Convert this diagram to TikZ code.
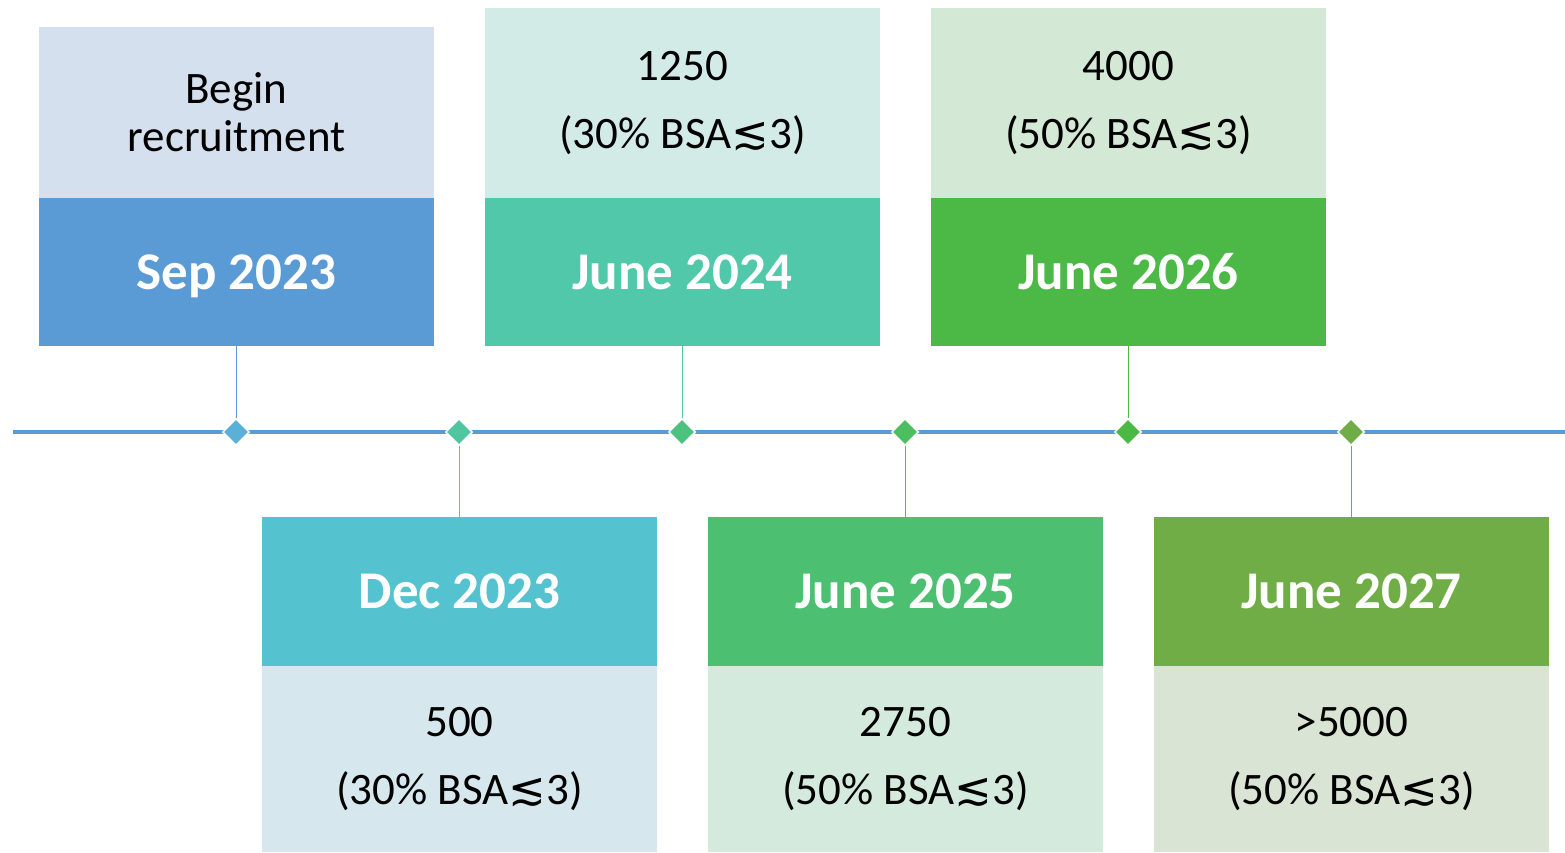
\documentclass[tikz,border=0pt]{standalone}
\usepackage{fontspec}
\setmainfont{Carlito}
\newfontfamily\symfont{DejaVu Sans}
\usepackage{tikz}
\usetikzlibrary{shapes.geometric}
\usetikzlibrary{positioning}

\definecolor{lineblue}{HTML}{5B9BD5}
\definecolor{darkA}{HTML}{5B9BD5}\definecolor{lightA}{HTML}{D5E0EE}
\definecolor{darkB}{HTML}{55C2CF}\definecolor{lightB}{HTML}{D6E8EE}
\definecolor{darkC}{HTML}{50C8A9}\definecolor{lightC}{HTML}{D3EBE6}
\definecolor{darkD}{HTML}{4CC070}\definecolor{lightD}{HTML}{D4EADD}
\definecolor{darkE}{HTML}{4CB947}\definecolor{lightE}{HTML}{D3E8D5}
\definecolor{darkF}{HTML}{70AD47}\definecolor{lightF}{HTML}{D9E4D4}
\definecolor{gemA}{HTML}{5AB0D6}
\definecolor{gemB}{HTML}{50C6A0}
\definecolor{gemC}{HTML}{4CC27E}
\definecolor{gemD}{HTML}{4CBE60}
\definecolor{gemE}{HTML}{4CB947}
\definecolor{gemF}{HTML}{70AD47}

\newcommand{\lesim}{{\symfont\char"2272}}

\tikzset{
  datebox/.style={rectangle,minimum width=395pt,inner sep=0pt,draw=none,text=white,
    text height=34pt,text depth=0pt,font=\fontsize{53}{58}\selectfont\bfseries},
  notebox/.style={rectangle,minimum width=395pt,inner sep=0pt,draw=none,text=black,align=center},
  gem/.style={diamond,minimum width=27pt,minimum height=27pt,inner sep=0pt,draw=white,line width=1.5pt},
  stem/.style={line width=0.8pt}
}

\begin{document}
\begin{tikzpicture}[x=1pt,y=-1pt]
\useasboundingbox (0,0) rectangle (1565,852);
% timeline
\coordinate (tl0) at (13,432);
\coordinate (tl1) at (1565,432);
\draw[lineblue,line width=3.5pt] (tl0) -- (tl1);

% upper boxes
\node at (236.5,112.5)[notebox,fill=lightA,minimum height=171pt,font=\fontsize{45}{48}\selectfont](topA){Begin\\recruitment};
\node at (236.5,272)[datebox,fill=darkA,minimum height=148pt](dateA){Sep 2023};
\node at (682.5,103)[notebox,fill=lightC,minimum height=190pt,font=\fontsize{45}{68}\selectfont](topC){1250\\(30\% BSA\lesim3)};
\node at (682.5,272)[datebox,fill=darkC,minimum height=148pt](dateC){June 2024};
\node at (1128.5,103)[notebox,fill=lightE,minimum height=190pt,font=\fontsize{45}{68}\selectfont](topE){4000\\(50\% BSA\lesim3)};
\node at (1128.5,272)[datebox,fill=darkE,minimum height=148pt](dateE){June 2026};

% lower boxes
\node at (459.5,591.5)[datebox,fill=darkB,minimum height=149pt](dateB){Dec 2023};
\node at (459.5,759)[notebox,fill=lightB,minimum height=186pt,font=\fontsize{45}{68}\selectfont](botB){500\\(30\% BSA\lesim3)};
\node at (905.5,591.5)[datebox,fill=darkD,minimum height=149pt](dateD){June 2025};
\node at (905.5,759)[notebox,fill=lightD,minimum height=186pt,font=\fontsize{45}{68}\selectfont](botD){2750\\(50\% BSA\lesim3)};
\node at (1351.5,591.5)[datebox,fill=darkF,minimum height=149pt](dateF){June 2027};
\node at (1351.5,759)[notebox,fill=lightF,minimum height=186pt,font=\fontsize{45}{68}\selectfont](botF){>5000\\(50\% BSA\lesim3)};

% stems and diamonds
\node at (236,432)[gem,fill=gemA](gA){};
\node at (459,432)[gem,fill=gemB](gB){};
\node at (682,432)[gem,fill=gemC](gC){};
\node at (905,432)[gem,fill=gemD](gD){};
\node at (1128,432)[gem,fill=gemE](gE){};
\node at (1351,432)[gem,fill=gemF](gF){};
\draw[stem,darkA] (gA.north) -- (dateA.south -| gA);
\draw[stem,darkB] (gB.south) -- (dateB.north -| gB);
\draw[stem,darkC] (gC.north) -- (dateC.south -| gC);
\draw[stem,darkD] (gD.south) -- (dateD.north -| gD);
\draw[stem,darkE] (gE.north) -- (dateE.south -| gE);
\draw[stem,darkF] (gF.south) -- (dateF.north -| gF);
\end{tikzpicture}
\end{document}
